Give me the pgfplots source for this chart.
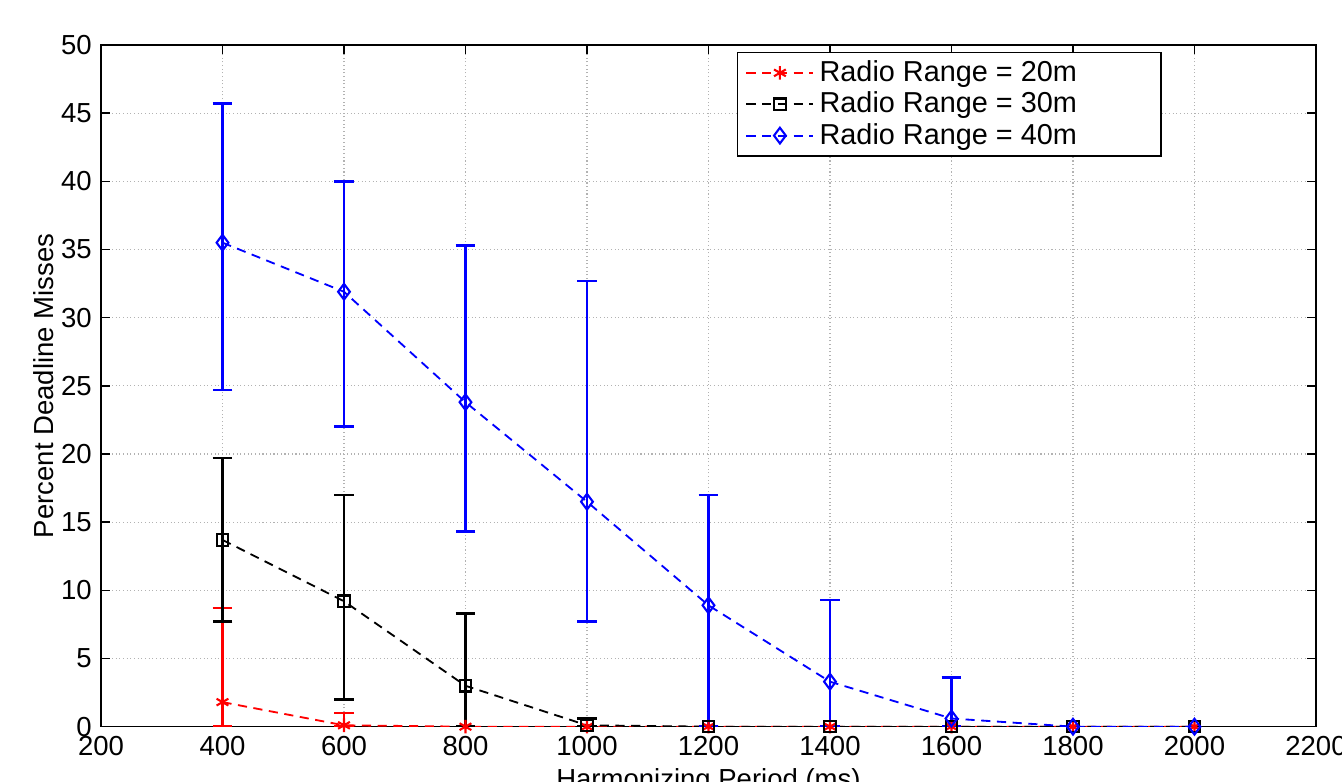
\documentclass[border=0pt]{standalone}
\usepackage{fontspec}
\setmainfont{Liberation Sans}
\usepackage{pgfplots}
\pgfplotsset{compat=1.18}

\begin{document}
\begin{tikzpicture}
\begin{axis}[
    name=main,
    scale only axis,
    width=16.29cm, height=9.14cm,
    xmin=200, xmax=2200, ymin=0, ymax=50,
    xtick={200,400,...,2200}, ytick={0,5,...,50},
    tick align=inside, tick pos=both,
    major tick length=0.12cm,
    grid=major,
    major grid style={densely dotted, gray!60, line width=0.4pt},
    axis line style={line width=0.6pt},
    tick style={line width=0.6pt, black},
    /pgf/number format/assume math mode=true,
    /pgf/number format/1000 sep={},
    font=\fontsize{10.5}{12.6}\selectfont,
    xlabel={Harmonizing Period (ms)},
    ylabel={Percent Deadline Misses},
    xlabel style={yshift=2pt},
    ylabel style={yshift=-4pt},
    legend style={at={(rel axis cs:0.873,0.99)}, anchor=north east,
        draw=black, line width=0.6pt, font=\fontsize{11}{13}\selectfont,
        row sep=-1.5pt, inner xsep=3pt, inner ysep=1pt},
    legend cell align=left,
    legend image code/.code={
        \draw[mark repeat=2, mark phase=2, #1] plot coordinates {(0cm,0cm) (0.45cm,0cm) (0.9cm,0cm)};
    },
    every axis plot/.append style={dash pattern=on 3.5pt off 2.5pt, line width=0.7pt},
]
% Radio Range = 20m
\addplot[red, mark=asterisk, mark size=2.6pt, mark options={solid, line width=0.8pt},
    error bars/.cd, y dir=both, y explicit,
    error bar style={solid, line width=1pt},
    error mark options={solid, rotate=90, line width=1pt, mark size=3.8pt}]
coordinates {
 (400,1.8) += (0,6.9) -= (0,1.8)
 (600,0.1) += (0,0.9) -= (0,0.1)
 (800,0) (1000,0) (1200,0) (1400,0) (1600,0) (1800,0) (2000,0)
};
\addlegendentry{Radio Range = 20m\hspace*{0.95cm}}
% Radio Range = 30m
\addplot[black, mark=square, mark size=2.2pt, mark options={solid, line width=0.8pt},
    error bars/.cd, y dir=both, y explicit,
    error bar style={solid, line width=1pt},
    error mark options={solid, rotate=90, line width=1pt, mark size=3.8pt}]
coordinates {
 (400,13.7) += (0,6.0) -= (0,6.0)
 (600,9.2) += (0,7.8) -= (0,7.2)
 (800,3.0) += (0,5.3) -= (0,3.0)
 (1000,0.1) += (0,0.5) -= (0,0.1)
 (1200,0) (1400,0) (1600,0) (1800,0) (2000,0)
};
\addlegendentry{Radio Range = 30m\hspace*{0.95cm}}
% Radio Range = 40m
\addplot[blue, mark=diamond, mark size=3pt, mark options={solid, line width=0.8pt},
    error bars/.cd, y dir=both, y explicit,
    error bar style={solid, line width=1pt},
    error mark options={solid, rotate=90, line width=1pt, mark size=3.8pt}]
coordinates {
 (400,35.5) += (0,10.2) -= (0,10.8)
 (600,31.9) += (0,8.1) -= (0,9.9)
 (800,23.8) += (0,11.5) -= (0,9.5)
 (1000,16.5) += (0,16.2) -= (0,8.8)
 (1200,8.9) += (0,8.1) -= (0,8.9)
 (1400,3.3) += (0,6.0) -= (0,3.3)
 (1600,0.6) += (0,3.0) -= (0,0.6)
 (1800,0) (2000,0)
};
\addlegendentry{Radio Range = 40m\hspace*{0.95cm}}
\end{axis}
\pgfresetboundingbox
\path[use as bounding box] ([xshift=-1.354cm,yshift=-0.737cm]main.south west) rectangle ([xshift=0.349cm,yshift=0.603cm]main.north east);
\end{tikzpicture}
\end{document}
